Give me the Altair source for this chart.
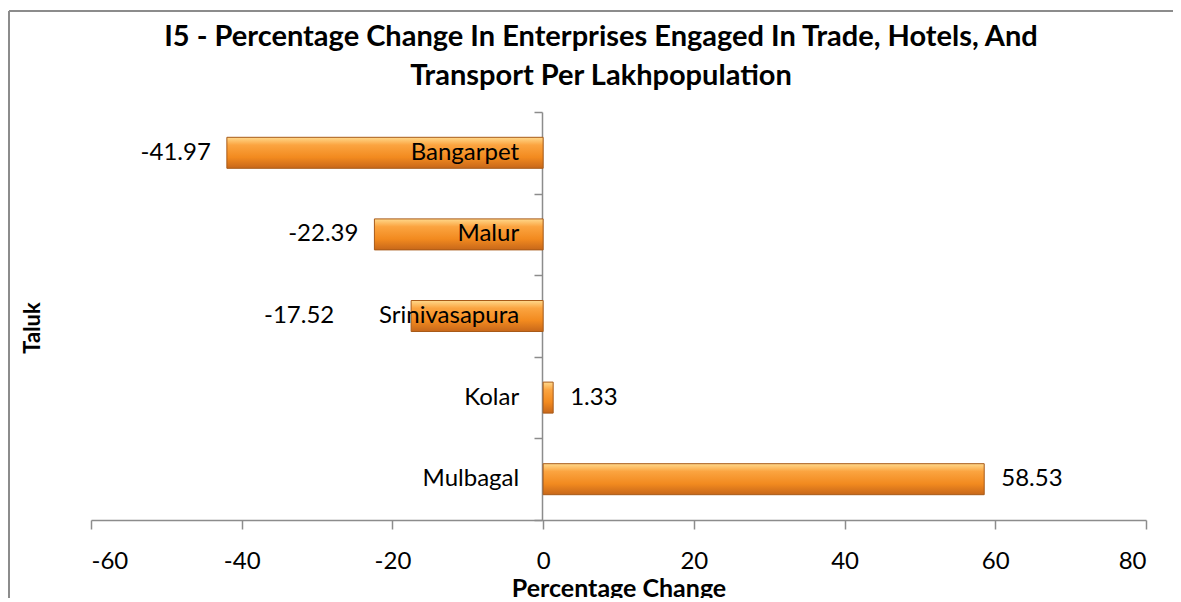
import altair as alt
import pandas as pd

taluks = ["Bangarpet", "Malur", "Srinivasapura", "Kolar", "Mulbagal"]
values = [-41.97, -22.39, -17.52, 1.33, 58.53]
labels = ["-41.97", "-22.39", "-17.52", "1.33", "58.53"]
x_ticks = [-60, -40, -20, 0, 20, 40, 60, 80]
title_lines = ["I5 - Percentage Change In Enterprises Engaged In Trade, Hotels, And",
               "Transport Per Lakhpopulation"]

df = pd.DataFrame({"Taluk": taluks, "Value": values, "Label": labels})

FONT = "Lato"
W, H = 1055, 408

xs = alt.Scale(domain=[-60, 80], nice=False, zero=False)
ys = alt.Scale(domain=taluks, paddingInner=0, paddingOuter=0)

grad = alt.LinearGradient(
    gradient="linear", x1=0, y1=0, x2=0, y2=1,
    stops=[
        alt.GradientStop(color="#FFD98C", offset=0),
        alt.GradientStop(color="#FBA440", offset=0.25),
        alt.GradientStop(color="#F28A1F", offset=0.65),
        alt.GradientStop(color="#C7671A", offset=1),
    ],
)

base = alt.Chart(df)

bars = base.mark_bar(size=31, color=grad, stroke="#A85A18", strokeWidth=1).encode(
    x=alt.X("Value:Q", scale=xs,
            axis=alt.Axis(values=x_ticks, title="Percentage Change", grid=False,
                          labelExpr="datum.value + ''",
                          domainColor="#8C8C8C", domainWidth=1.5, tickColor="#8C8C8C",
                          tickWidth=1.5, tickSize=9, labelFontSize=24, labelFont=FONT,
                          labelColor="#000000", labelPadding=20, titleFont=FONT,
                          titleFontSize=25, titleFontWeight="bold", titleColor="#000000",
                          titlePadding=3)),
    x2=alt.datum(0),
    y=alt.Y("Taluk:N", scale=ys, sort=taluks,
            axis=alt.Axis(title=None, labels=False, offset=-451, domainColor="#8C8C8C",
                          domainWidth=1.5, tickColor="#8C8C8C", tickWidth=1.5, tickSize=8,
                          tickBand="extent")),
)

cat_text = base.mark_text(align="right", baseline="middle", dx=-24, fontSize=24,
                          font=FONT, color="#000000").encode(
    x=alt.datum(0), y=alt.Y("Taluk:N", scale=ys, sort=taluks), text="Taluk:N")

# negative value labels sit left of the bar, and left of the category name when it is longer
neg_text = base.transform_filter("datum.Value < 0").transform_calculate(
    lx="min(datum.Value, -(length(datum.Taluk) * 1.7 + 3.5))"
).mark_text(
    align="right", baseline="middle", dx=-16, fontSize=24, font=FONT, color="#000000"
).encode(x=alt.X("lx:Q", scale=xs), y=alt.Y("Taluk:N", scale=ys, sort=taluks),
         text="Label:N")

pos_text = base.transform_filter("datum.Value >= 0").mark_text(
    align="left", baseline="middle", dx=17, fontSize=24, font=FONT, color="#000000"
).encode(x=alt.X("Value:Q", scale=xs), y=alt.Y("Taluk:N", scale=ys, sort=taluks),
         text="Label:N")

taluk_title = alt.Chart(pd.DataFrame({"t": ["Taluk"]})).mark_text(
    angle=270, fontSize=22, font=FONT, fontWeight="bold", color="#000000",
    align="center", baseline="middle"
).encode(x=alt.value(-58), y=alt.value(216), text="t:N")

title1 = alt.Chart(pd.DataFrame({"t": [title_lines[0]]})).mark_text(
    fontSize=29, font=FONT, fontWeight="bold", color="#000000",
    align="center", baseline="middle"
).encode(x=alt.value(510), y=alt.value(-75), text="t:N")
title2 = alt.Chart(pd.DataFrame({"t": [title_lines[1]]})).mark_text(
    fontSize=29, font=FONT, fontWeight="bold", color="#000000",
    align="center", baseline="middle"
).encode(x=alt.value(510), y=alt.value(-36), text="t:N")

frame_left = alt.Chart(pd.DataFrame({"a": [1]})).mark_rule(
    color="#8C8C8C", strokeWidth=2).encode(
    x=alt.value(-82), y=alt.value(-101), y2=alt.value(H + 90))
frame_top = alt.Chart(pd.DataFrame({"a": [1]})).mark_rule(
    color="#8C8C8C", strokeWidth=2).encode(
    x=alt.value(-82), x2=alt.value(W + 60), y=alt.value(-101))

chart = alt.layer(frame_left, frame_top, bars, cat_text, neg_text, pos_text,
                  taluk_title, title1, title2).properties(
    width=W, height=H,
    autosize=alt.AutoSizeParams(type="none"),
    padding={"left": 83, "top": 104, "right": 27, "bottom": 78},
).configure(background="#FFFFFF").configure_view(strokeOpacity=0, strokeWidth=0)

chart.save("out.html", embed_options={"renderer": "svg", "actions": False})
